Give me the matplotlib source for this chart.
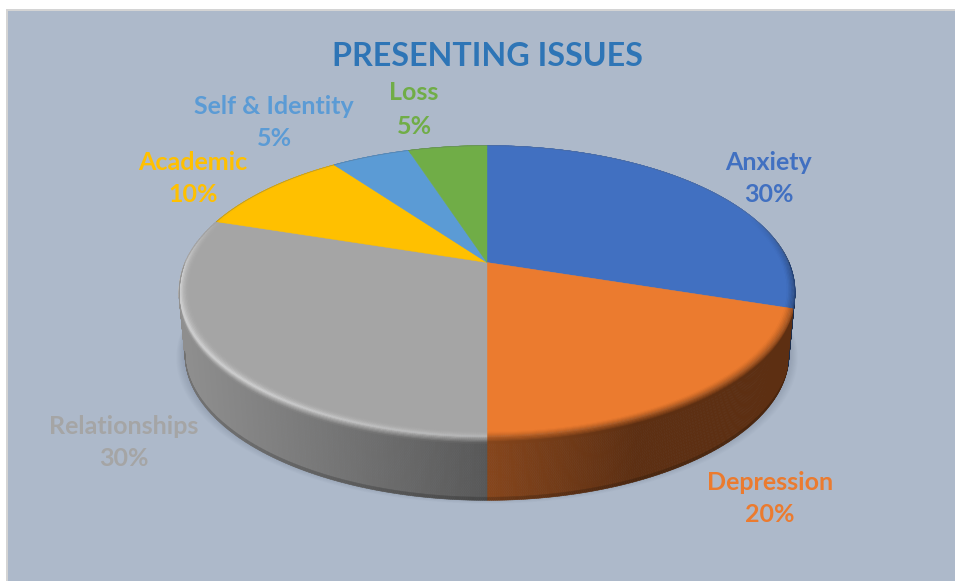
import numpy as np
import matplotlib
matplotlib.use("Agg")
import matplotlib.pyplot as plt
from matplotlib.collections import PolyCollection
from matplotlib.colors import to_rgb
from matplotlib.patches import Rectangle, Polygon

categories = ["Anxiety", "Depression", "Relationships", "Academic", "Self & Identity", "Loss"]
shares = [30, 20, 30, 10, 5, 5]
title = "PRESENTING ISSUES"
face_colors = ["#4170C1", "#EB7B2F", "#A5A5A5", "#FFC000", "#5B9BD5", "#70AD47"]
label_centers = [(769, 162), (770, 482), (124, 426), (193, 162), (274, 106), (414, 93)]

W, H = 955, 581
CX, CY, DX, DB, DC, DEPTH = 487.0, 262.5, 302.0, -88.0, 0.1986, 63.0
plt.rcParams["font.family"] = ["Lato", "DejaVu Sans"]


def project(phi, r=1.0, t=0.0):
    u, v = r * np.sin(np.radians(phi)), r * np.cos(np.radians(phi))
    d = 1 + DC * v
    x = CX + DX * u / d * (1 - 0.02 * t)
    y = (CY + DB * v) / d + DEPTH * t
    return x, y


def mix(a, b, f):
    return tuple(a[i] + (b[i] - a[i]) * f for i in range(3))


def side_color(idx, phi):
    x, _ = project(phi)
    f = np.clip((CX - x) / 300, 0, 1)
    if idx == 2:
        return mix(to_rgb("#575757"), to_rgb("#8E8E8E"), f ** 0.9)
    if idx == 1:
        f = np.clip((x - CX) / 150, 0, 1)
        return mix(to_rgb("#86461C"), to_rgb("#5D2F12"), f)
    return mix(to_rgb(face_colors[idx]), (0, 0, 0), 0.6)


fig = plt.figure(figsize=(W / 100, H / 100), dpi=100, facecolor="white")
ax = fig.add_axes([0, 0, 1, 1])
ax.set_xlim(0, W)
ax.set_ylim(H, 0)
ax.axis("off")
ax.add_patch(Rectangle((6, 9), W, H, fc="#D4D4D4", ec="none", zorder=0))
ax.add_patch(Rectangle((8, 11), W, H, fc="#ADB9CA", ec="none", zorder=0))

# soft shadow below the disc
phis = np.linspace(0, 360, 361)
bx, by = project(phis, 1.0, 1.0)
for g in range(9, 0, -1):
    sx = CX + (bx - CX) * (1 + g * 0.0032)
    sy = by + g * 0.7 - 3
    ax.add_patch(Polygon(np.c_[sx, sy], fc="#5F6E85", ec="none", alpha=0.035, zorder=1))

edges = np.cumsum([0] + shares) * 3.6
N_T = 20
N_S = 14
R_IN = 0.962
for i, share in enumerate(shares):
    a0, a1 = edges[i], edges[i + 1]
    n = max(int((a1 - a0) * 3), 6)
    ang = np.linspace(a0, a1, n + 1)
    base = to_rgb(face_colors[i])

    # top face
    xf, yf = project(ang, 0.99)
    ax.add_patch(Polygon(np.r_[[[CX, CY]], np.c_[xf, yf]], fc=base, ec=base, lw=0.3, zorder=4))

    # outer wall
    quads, cols = [], []
    for p0, p1 in zip(ang[:-1], ang[1:]):
        pm = (p0 + p1) / 2
        if np.cos(np.radians(pm)) > -DC:
            continue
        c = side_color(i, pm)
        for j in range(N_T):
            t0, t1 = j / N_T, (j + 1) / N_T
            x00, y00 = project(p0, 1, t0)
            x10, y10 = project(p1, 1, t0)
            x11, y11 = project(p1, 1, t1)
            x01, y01 = project(p0, 1, t1)
            quads.append([(x00, y00), (x10, y10), (x11, y11), (x01, y01)])
            dark = 0.8 if t1 > 0.97 else 1.0
            cols.append(tuple(k * dark for k in c))
    if quads:
        ax.add_collection(PolyCollection(quads, facecolors=cols, edgecolors=cols, linewidths=0.4, zorder=3))

    # rounded rim between top face and wall
    quads, cols = [], []
    for p0, p1 in zip(ang[:-1], ang[1:]):
        pm = (p0 + p1) / 2
        v = np.cos(np.radians(pm))
        w = np.clip((0.35 - v) / 0.45, 0, 1)
        drop = np.clip(-v / 0.3, 0, 1)
        sc = side_color(i, pm)
        for j in range(N_S):
            s0, s1 = j / N_S, (j + 1) / N_S
            r0 = R_IN + (1 - R_IN) * min(s0 / 0.62, 1)
            r1 = R_IN + (1 - R_IN) * min(s1 / 0.62, 1)
            t0 = max(0, s0 - 0.62) / 0.38 * 0.1 * drop
            t1 = max(0, s1 - 0.62) / 0.38 * 0.1 * drop
            x00, y00 = project(p0, r0, t0)
            x10, y10 = project(p1, r0, t0)
            x11, y11 = project(p1, r1, t1)
            x01, y01 = project(p0, r1, t1)
            sm = (s0 + s1) / 2
            if i == 2:
                peak = 0.58
                strength = 0.4 + 0.55 * np.clip((pm - 180) / 40, 0, 1)
                light = mix(base, to_rgb("#DADADA"), strength)
                if sm < peak:
                    c = mix(base, light, (sm / peak) ** 2.5)
                else:
                    c = mix(light, sc, ((sm - peak) / (1 - peak)) ** 0.8)
            else:
                c = mix(base, sc, np.clip((sm - 0.2) / 0.7, 0, 1) ** 1.2)
            c = mix(base, c, w)
            quads.append([(x00, y00), (x10, y10), (x11, y11), (x01, y01)])
            cols.append(c)
    ax.add_collection(PolyCollection(quads, facecolors=cols, edgecolors=cols, linewidths=0.3, zorder=5))

# thin dark outline along the back edge of the disc
bk = np.linspace(-72, 90, 200)
xe, ye = project(bk, 1.0)
ax.plot(xe, ye, color="#5A6678", lw=0.5, alpha=0.5, zorder=6)

ax.text(CX, 57, title, color="#2E75B6", fontsize=23.2, fontweight="bold", ha="center", va="center", zorder=8)
for name, share, col, (lx, ly) in zip(categories, shares, face_colors, label_centers):
    kw = dict(color=col, fontsize=18, fontweight="bold", ha="center", va="center", zorder=8)
    ax.text(lx, ly, name, **kw)
    ax.text(lx, ly + 33, f"{share}%", **kw)

fig.savefig("out.png", dpi=100, facecolor="white")
